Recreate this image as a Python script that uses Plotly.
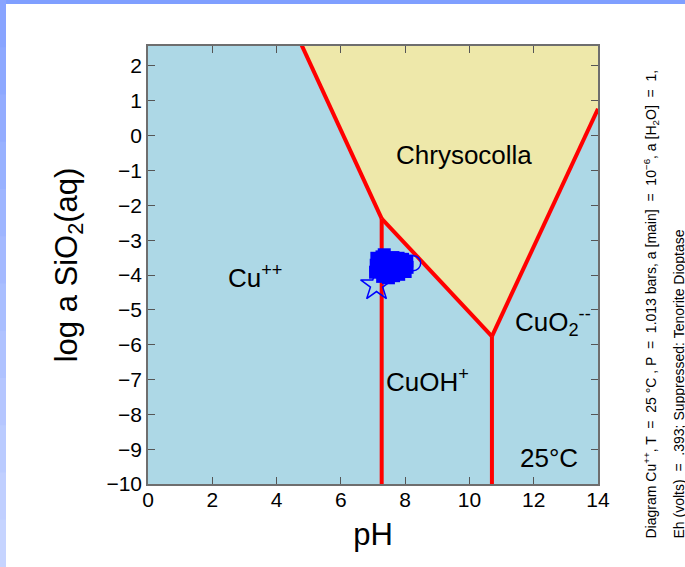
import plotly.graph_objects as go

# ---- data -------------------------------------------------------------
x_ticks = [0, 2, 4, 6, 8, 10, 12, 14]
y_ticks = [-10, -9, -8, -7, -6, -5, -4, -3, -2, -1, 0, 1, 2]

# Chrysocolla stability field (pH, log a SiO2)
chry_ph = [4.58, 7.27, 10.70, 14.0, 14.0]
chry_log = [3.0, -2.38, -5.76, 0.77, 3.0]

# boundaries
b1_ph, b1_log = [4.58, 7.27], [3.0, -2.38]        # Cu++ / Chrysocolla
b2_ph, b2_log = [7.27, 10.70], [-2.38, -5.76]     # CuOH+ / Chrysocolla
b3_ph, b3_log = [10.70, 14.0], [-5.76, 0.77]      # CuO2-- / Chrysocolla
b4_ph, b4_log = [7.27, 7.27], [-2.38, -10.0]      # Cu++ / CuOH+
b5_ph, b5_log = [10.70, 10.70], [-5.76, -10.0]    # CuOH+ / CuO2--

# sample points
smp_ph = [7.12, 7.28, 7.45, 7.62, 7.78, 7.92, 8.05,
          7.1, 7.32, 7.5, 7.66, 7.82, 7.98, 8.06,
          7.08, 7.36, 7.54, 7.7, 7.86, 8.0,
          7.3, 7.48, 7.64, 7.8, 7.35]
smp_log = [-3.52, -3.48, -3.55, -3.5, -3.52, -3.55, -3.6,
           -3.72, -3.68, -3.7, -3.74, -3.7, -3.72, -3.78,
           -3.92, -3.92, -3.88, -3.9, -3.86, -3.9,
           -4.04, -4.08, -4.02, -3.98, -3.42]
star_ph, star_log = [7.11], [-4.29]
ring_ph, ring_log = [8.25], [-3.66]

# field labels
lab_ph = [3.35, 9.83, 8.7, 12.6, 12.48]
lab_log = [-4.05, -0.56, -7.02, -5.35, -9.25]
lab_txt = ["Cu<sup>++</sup>", "Chrysocolla", "CuOH<sup>+</sup>",
           "CuO<sub>2</sub><sup>--</sup>", "25°C"]

# ---- figure -----------------------------------------------------------
W, H = 685, 567
L, R, T, B = 148, 87, 46, 83
pw, ph = W - L - R, H - T - B
def px(x):
    return (x - L) / pw
def py(y):
    return (H - B - y) / ph

fig = go.Figure()
fig.add_trace(go.Scatter(x=chry_ph, y=chry_log, fill="toself", mode="lines",
                         fillcolor="#EEE8AA", line=dict(width=0),
                         hoverinfo="skip", showlegend=False))
for bx, by in [(b1_ph, b1_log), (b2_ph, b2_log), (b3_ph, b3_log),
               (b4_ph, b4_log), (b5_ph, b5_log)]:
    fig.add_trace(go.Scatter(x=bx, y=by, mode="lines",
                             line=dict(color="#FF0000", width=4),
                             showlegend=False))
fig.add_trace(go.Scatter(x=smp_ph, y=smp_log, mode="markers",
                         marker=dict(color="#0000FF", size=13, symbol="square"),
                         showlegend=False))
fig.add_trace(go.Scatter(x=star_ph, y=star_log, mode="markers",
                         marker=dict(color="#0000FF", size=24, symbol="star-open",
                                     line=dict(width=1.5, color="#0000FF")),
                         showlegend=False))
fig.add_trace(go.Scatter(x=ring_ph, y=ring_log, mode="markers",
                         marker=dict(color="#0000FF", size=15, symbol="circle-open",
                                     line=dict(width=1.5, color="#0000FF")),
                         showlegend=False))

font = "Liberation Sans, Arial, sans-serif"
for x, y, t in zip(lab_ph, lab_log, lab_txt):
    fig.add_annotation(x=x, y=y, text=t, showarrow=False,
                       font=dict(size=26, color="black", family=font))

# right-side caption
fig.add_annotation(xref="paper", yref="paper", x=px(651), y=py(541),
                   xanchor="center", yanchor="bottom", textangle=-90,
                   showarrow=False,
                   text="Diagram Cu<sup>++</sup>, T  =  25 °C , P  =  1.013 bars, a [main]  =  10<sup>−6</sup>, a [H<sub>2</sub>O]  =  1,",
                   font=dict(size=14, color="black", family=font))
fig.add_annotation(xref="paper", yref="paper", x=px(678), y=py(541),
                   xanchor="center", yanchor="bottom", textangle=-90,
                   showarrow=False,
                   text="Eh (volts)  =  .393; Suppressed: Tenorite Dioptase",
                   font=dict(size=14, color="black", family=font))

# slide-like border: top band and left gradient band
shapes = [dict(type="rect", xref="paper", yref="paper",
               x0=px(0), x1=px(W), y0=py(4), y1=py(0),
               fillcolor="#7F9FFF", line=dict(width=0), layer="above")]
steps = 12
for i in range(steps):
    f = i / (steps - 1)
    r = int(0x88 + f * (0xC6 - 0x88))
    g = int(0xA4 + f * (0xD4 - 0xA4))
    col = f"rgb({r},{g},255)"
    y0 = i * H / steps
    y1 = (i + 1) * H / steps + 2
    shapes.append(dict(type="rect", xref="paper", yref="paper",
                       x0=px(-1), x1=px(6), y0=py(y1), y1=py(y0),
                       fillcolor=col, line=dict(width=0), layer="above"))
fig.update_layout(shapes=shapes)

axis_common = dict(showgrid=False, zeroline=False, showline=True,
                   linecolor="#6E6E6E", linewidth=1.5, mirror="ticks",
                   ticks="inside", ticklen=7, tickwidth=1.2, tickcolor="#555555",
                   tickfont=dict(size=21, color="black", family=font))
fig.update_xaxes(range=[0, 14], tickvals=x_ticks, **axis_common,
                 ticklabelstandoff=-4,
                 title=dict(text="pH", font=dict(size=31, color="black", family=font),
                            standoff=13))
fig.update_yaxes(range=[-10, 2.574], tickvals=y_ticks, **axis_common,
                 title=dict(text="log a SiO<sub>2</sub>(aq)",
                            font=dict(size=31, color="black", family=font),
                            standoff=20))

fig.update_layout(width=W, height=H,
                  margin=dict(l=L, r=R, t=T, b=B),
                  plot_bgcolor="#ADD8E6", paper_bgcolor="white",
                  font=dict(family=font, color="black"),
                  showlegend=False)

fig.write_html("out.html", config={"displayModeBar": False},
               post_script="document.body.style.margin='0';document.body.style.overflow='hidden';")
